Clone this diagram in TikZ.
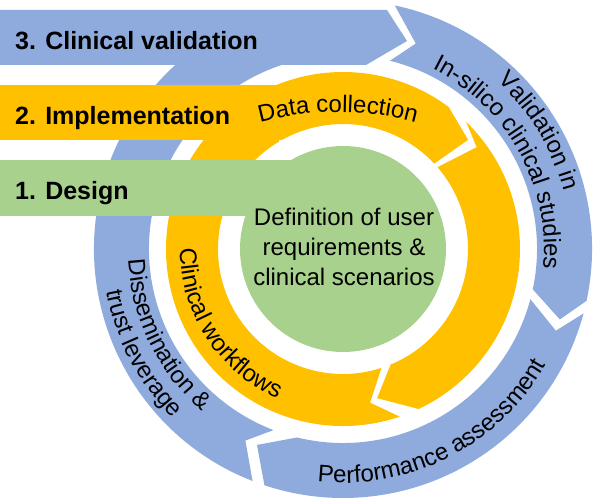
\documentclass[tikz,border=0pt]{standalone}
\usepackage{fontspec}
\setmainfont{Liberation Sans}
\usetikzlibrary{decorations.text}
\definecolor{cblue}{HTML}{8FAADC}
\definecolor{corange}{HTML}{FFC000}
\definecolor{cgreen}{HTML}{A9D18E}
\newcommand\ftxt{\fontsize{24}{28}\selectfont}
\begin{document}
\begin{tikzpicture}[x=1pt,y=1pt,
  bandtitle/.style={font=\fontsize{25}{30}\selectfont\bfseries, anchor=base west, inner sep=0pt},
  curved/.style={decorate, decoration={text along path, text align=center, text={|\ftxt|#1}}}]
\useasboundingbox (0,0) rectangle (597,501);
\coordinate (C) at (343,252);
% ---------- blue ring ----------
\begin{scope}[shift={(C)}]
  \fill[cblue] (78:249) arc[start angle=78, end angle=-12, radius=249] -- (-18:228) -- (-12:194)
     arc[start angle=-12, end angle=76, radius=194] -- (70.5:218) -- cycle;
  \fill[cblue] (-15:249) arc[start angle=-15, end angle=-108.4, radius=249] -- (-113.7:214) -- (-103.7:194)
     arc[start angle=-103.7, end angle=-15, radius=194] -- (-21:228) -- cycle;
  \fill[cblue] (-111.3:249) arc[start angle=-111.3, end angle=-253, radius=249] -- (-253:194)
     arc[start angle=-253, end angle=-111, radius=194] -- (-117:215) -- cycle;
\end{scope}
\fill[cblue] (0,491) -- (387,491) -- (407,460) -- (366,436) -- (0,436) -- cycle;
% ---------- orange ring ----------
\begin{scope}[shift={(C)}]
  \fill[corange] (119.3:177) arc[start angle=119.3, end angle=53.3, radius=177] -- (41.1:166) -- (43.1:125)
     arc[start angle=43.1, end angle=119.3, radius=125] -- cycle;
  \fill[corange] (45.9:177) arc[start angle=45.9, end angle=-64.7, radius=177] -- (-77.1:153) -- (-67.6:125)
     arc[start angle=-67.6, end angle=40.9, radius=125] -- (37.3:168) -- cycle;
  \fill[corange] (-71.3:177) arc[start angle=-71.3, end angle=-239.5, radius=177] -- (-239.5:125)
     arc[start angle=-239.5, end angle=-72.1, radius=125] -- (-80:156) -- cycle;
\end{scope}
\fill[corange] (0,361) rectangle (282,416);
% ---------- green ----------
\fill[cgreen] (0,285) rectangle (300,341);
\fill[cgreen] (C) circle[radius=103];
% ---------- titles ----------
\node[bandtitle] (t3) at (15,451) {3. Clinical validation};
\node[bandtitle] (t2) at (15,376) {2. Implementation};
\node[bandtitle] (t1) at (15,301) {1. Design};
\node[font=\fontsize{24}{30}\selectfont, align=center, inner sep=0pt] (core) at (344,254)
  {Definition of user\\requirements \&\\clinical scenarios};
% ---------- curved labels ----------
\begin{scope}[shift={(338,93)}]
  \path[curved={Data collection}] (110:296) arc[start angle=110, end angle=70, radius=296];
\end{scope}
\begin{scope}[shift={(C)}]
  \path[curved={Validation in}] (91:228) arc[start angle=91, end angle=-29, radius=228];
  \path[curved={In-silico clinical studies}] (89:201) arc[start angle=89, end angle=-31, radius=201];
  \path[curved={Performance assessment}] (-123:234) arc[start angle=-123, end angle=-3, radius=234];
  \path[curved={Dissemination {\&}}] (146:215) arc[start angle=146, end angle=266, radius=215];
  \path[curved={trust leverage}] (147.5:240) arc[start angle=147.5, end angle=267.5, radius=240];
  \path[curved={Clinical workflows}] (153:163) arc[start angle=153, end angle=273, radius=163];
\end{scope}
\end{tikzpicture}
\end{document}
